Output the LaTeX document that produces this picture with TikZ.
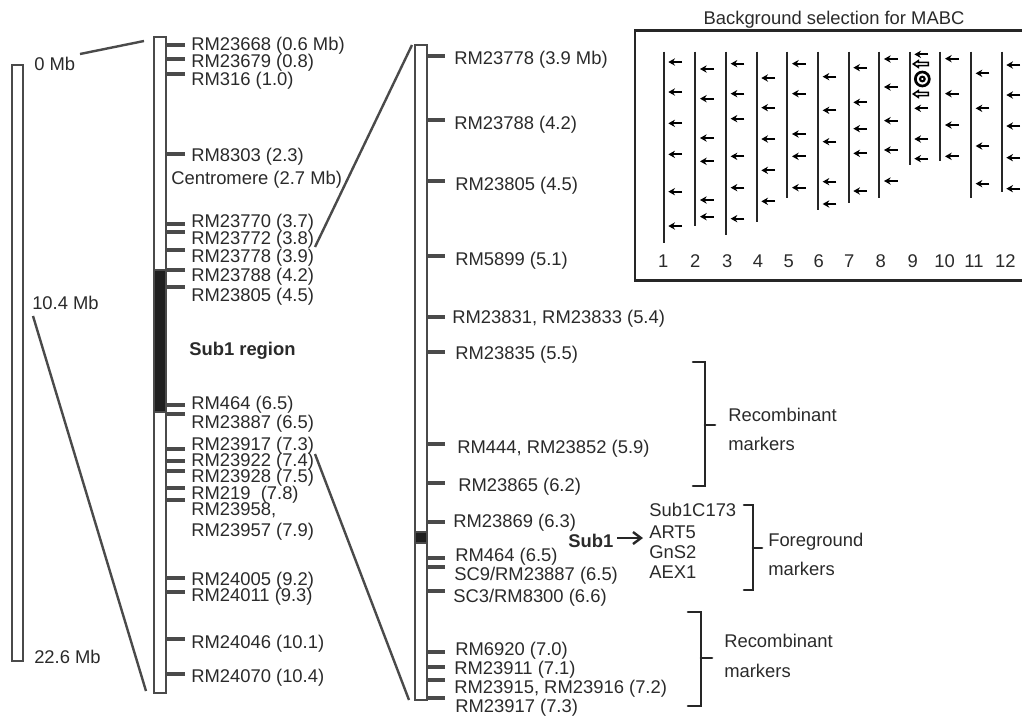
\documentclass[tikz,border=0pt]{standalone}
\usepackage{fontspec}
\setmainfont{Liberation Sans}
\usetikzlibrary{arrows.meta}
\definecolor{chromline}{HTML}{4A4A4A}
\definecolor{txt}{HTML}{2A2A2A}
\begin{document}
\begin{tikzpicture}[x=0.75pt,y=-0.75pt,
  every node/.style={font=\fontsize{13.8}{16}\selectfont,text=txt},
  lbl/.style={anchor=west,inner sep=0pt,text height=10pt,text depth=3pt,yshift=-2pt},
  chromo/.style={draw=chromline,line width=1.7pt,fill=white,inner sep=0pt,rectangle},
  darkpart/.style={draw=chromline,line width=1.7pt,fill=black!88,inner sep=0pt,rectangle},
  tickmark/.style={draw=chromline,line width=2.6pt},
  zoomline/.style={draw=chromline,line width=1.8pt},
  bracketline/.style={draw=black!85,line width=2pt,line cap=round},
  chrline/.style={draw=black!85,line width=1.6pt},
  marker/.style={draw=black,line width=1.4pt,-{Stealth[length=5pt,width=5.5pt]}},
  hollow/.style={draw=black,line width=1.2pt,fill=white}]
\useasboundingbox (0,0) rectangle (1022,715);
% chromosomes
\node[chromo,minimum width=8.25pt,minimum height=447pt] (whole) at (17.5,363) {};
\node[chromo,minimum width=9pt,minimum height=492pt] (mid) at (160,365) {};
\node[darkpart,minimum width=9pt,minimum height=106.5pt] (midsub) at (160,341) {};
\node[chromo,minimum width=9pt,minimum height=491.25pt] (right) at (421,372.5) {};
\node[darkpart,minimum width=9pt,minimum height=8.25pt] (rightsub) at (421,537.5) {};
% scale labels
\node[lbl] (mb0) at (34,63) {0 Mb};
\node[lbl] (mb10) at (32,302) {10.4 Mb};
\node[lbl] (mb22) at (34,656) {22.6 Mb};
% middle chromosome markers
\foreach \ty/\ly/\t [count=\i] in {45/43/RM23668 (0.6 Mb),59/60/RM23679 (0.8),74/78/RM316 (1.0),154/154/RM8303 (2.3),
  224/220/RM23770 (3.7),232/237/RM23772 (3.8),250/255/RM23778 (3.9),270/274/RM23788 (4.2),287/294/RM23805 (4.5),
  405/402/RM464 (6.5),414/421/RM23887 (6.5),449/443/RM23917 (7.3),461/459/RM23922 (7.4),471/475/RM23928 (7.5),
  488/492/{RM219~~(7.8)},500/508/{RM23958,},578/578/RM24005 (9.2),592/594/RM24011 (9.3),639/641/RM24046 (10.1),674/675/RM24070 (10.4)}{
  \coordinate (mt\i) at (185,\ty);
  \node[lbl] (ml\i) at (191,\ly) {\t};
  \draw[tickmark] (mid.east |- mt\i) -- (mt\i);
}
\node[lbl] (rm57) at (191,529) {RM23957 (7.9)};
\node[lbl] (centro) at (171,177) {Centromere (2.7 Mb)};
\node[lbl,font=\fontsize{13.8}{16}\selectfont\bfseries] (subreg) at (189,348) {Sub1 region};
% right chromosome markers
\foreach \ty/\lx/\ly/\t [count=\i] in {56/454/57/RM23778 (3.9 Mb),120/454/122/RM23788 (4.2),181/455/183/RM23805 (4.5),
  256/455/258/RM5899 (5.1),317/452/316/{RM23831, RM23833 (5.4)},352/455/352/RM23835 (5.5),444/457/446/{RM444, RM23852 (5.9)},
  483/458/484/RM23865 (6.2),522/453/520/RM23869 (6.3),558/455/554/RM464 (6.5),567/454/573/{SC9/RM23887 (6.5)},
  591/453/595/{SC3/RM8300 (6.6)},652/455/648/RM6920 (7.0),667/454/667/RM23911 (7.1),680/454/686/{RM23915, RM23916 (7.2)},698/455/705/RM23917 (7.3)}{
  \coordinate (rt\i) at (445,\ty);
  \node[lbl] (rl\i) at (\lx,\ly) {\t};
  \draw[tickmark] (right.east |- rt\i) -- (rt\i);
}
% zoom lines
\coordinate (z1a) at (80,54);  \coordinate (z1b) at (144,41);
\coordinate (z2a) at (33,316); \coordinate (z2b) at (146,691);
\coordinate (z3a) at (315,247);\coordinate (z3b) at (412,45);
\coordinate (z4a) at (315,454);\coordinate (z4b) at (409,700);
\draw[zoomline] (z1a) -- (z1b);
\draw[zoomline] (z2a) -- (z2b);
\draw[zoomline] (z3a) -- (z3b);
\draw[zoomline] (z4a) -- (z4b);
% Sub1 and foreground markers
\node[lbl,font=\fontsize{13.8}{16}\selectfont\bfseries] (sub1) at (568,540) {Sub1};
\node[lbl] (fm1) at (649,509) {Sub1C173};
\node[lbl] (fm2) at (649,531) {ART5};
\node[lbl] (fm3) at (649,551) {GnS2};
\node[lbl] (fm4) at (649,571) {AEX1};
\coordinate (sa) at (617,538); \coordinate (sb) at (643,538);
\draw[draw=black!85,line width=1.8pt,-{Straight Barb[length=6pt,width=9pt]}] (sa) -- (sb);
% brackets
\draw[bracketline] (693,362) -- (705,362) -- (705,486) -- (693,486) (705,425) -- (715,425);
\node[lbl] (rec1) at (728,414) {Recombinant};
\node[lbl] (rec1m) at (728,443) {markers};
\draw[bracketline] (744,505) -- (753,505) -- (753,590) -- (744,590) (753,548) -- (762,548);
\node[lbl] (fore) at (768,539) {Foreground};
\node[lbl] (forem) at (768,568) {markers};
\draw[bracketline] (688,612) -- (701,612) -- (701,706) -- (688,706) (701,658) -- (712,658);
\node[lbl] (rec2) at (724,640) {Recombinant};
\node[lbl] (rec2m) at (724,670) {markers};
% background selection panel
\node[inner sep=0pt] (title) at (834,20) {Background selection for MABC};
\draw[draw=black!85,line width=2pt] (1024,30.7) -- (635,30.7) -- (635,280.7) -- (1024,280.7);
\begin{scope}[shift={(630,10)},x=0.25pt,y=-0.25pt]
  \foreach \x/\b/\n/\nx/\ys in {
    101/700/1/100/{156,246,340,433,545,648},
    196/648/2/196/{177,266,384,454,570,620},
    288/674/3/292/{161,251,326,439,533,626},
    380/637/4/384/{204,293,387,481,574},
    472/564/5/476/{161,251,372,439,533},
    564/600/6/566/{200,301,395,515,582},
    656/578/7/658/{173,277,356,430,543},
    748/564/8/752/{147,231,332,420,513},
    839/465/9/848/{133,295,387,446},
    931/454/10/944/{146,251,345,439},
    1023/564/11/1032/{190,295,408,521},
    1115/545/12/1126/{165,255,348,443,536}}{
    \draw[chrline] (\x,125) -- (\x,\b);
    \node[inner sep=0pt,text height=10pt,text depth=0pt] at (\nx,752) {\n};
    \foreach \y in \ys {
      \draw[marker] (\x+55,\y) -- (\x+14,\y);
    }
  }
  \draw[hollow] (850,162) -- (865,152) -- (865,157) -- (895,157) -- (895,167) -- (865,167) -- (865,172) -- cycle;
  \draw[hollow] (850,252) -- (865,242) -- (865,247) -- (895,247) -- (895,257) -- (865,257) -- (865,262) -- cycle;
  \draw[draw=black,line width=2pt] (877,207) circle (21);
  \draw[draw=black,line width=1.6pt] (877,207) circle (7);
\end{scope}
\end{tikzpicture}
\end{document}
